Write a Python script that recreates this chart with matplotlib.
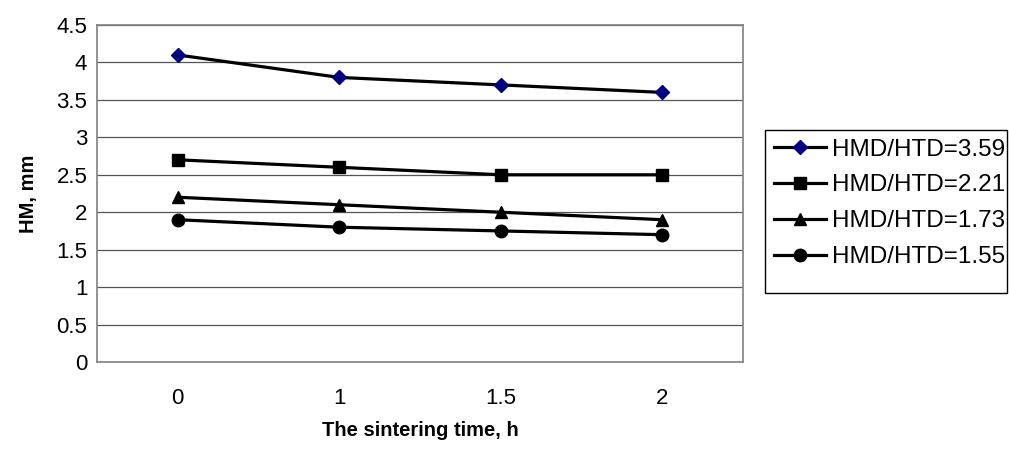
import numpy as np
import matplotlib.pyplot as plt
from matplotlib.patches import Rectangle

plt.rcParams['font.family'] = ['Liberation Sans', 'DejaVu Sans']

# 烧结时间（类别轴）
time_labels = ['0', '1', '1.5', '2']
hm_359 = [4.1, 3.8, 3.7, 3.6]
hm_221 = [2.7, 2.6, 2.5, 2.5]
hm_173 = [2.2, 2.1, 2.0, 1.9]
hm_155 = [1.9, 1.8, 1.75, 1.7]
series_labels = ['HMD/HTD=3.59', 'HMD/HTD=2.21', 'HMD/HTD=1.73', 'HMD/HTD=1.55']
y_ticks = np.arange(0, 4.51, 0.5)
y_tick_labels = ['0', '0.5', '1', '1.5', '2', '2.5', '3', '3.5', '4', '4.5']

W, H = 1009, 455
fig = plt.figure(figsize=(W / 100, H / 100), dpi=100)
ax = fig.add_axes([97 / W, 1 - 362 / H, 646 / W, 337 / H])

x = np.arange(len(time_labels))
styles = [
    dict(marker='D', markersize=7, markerfacecolor='#000080', markeredgecolor='#000080'),
    dict(marker='s', markersize=9, markerfacecolor='black', markeredgecolor='black'),
    dict(marker='^', markersize=9, markerfacecolor='black', markeredgecolor='black'),
    dict(marker='o', markersize=9, markerfacecolor='black', markeredgecolor='black'),
]
for vals, lab, st in zip([hm_359, hm_221, hm_173, hm_155], series_labels, styles):
    ax.plot(x, vals, color='black', linewidth=2.3, label=lab, **st)

ax.set_xlim(-0.5, len(time_labels) - 0.5)
ax.set_ylim(0, 4.5)
ax.set_xticks(x)
ax.set_xticklabels(time_labels)
ax.set_yticks(y_ticks)
ax.set_yticklabels(y_tick_labels)
ax.tick_params(length=0, labelsize=16, pad=7)
ax.tick_params(axis='x', pad=19)
ax.yaxis.grid(True, color='#555555', linewidth=0.9)
ax.set_axisbelow(True)
for s in ax.spines.values():
    s.set_color('#808080')
    s.set_linewidth(1.2)

ax.set_xlabel('The sintering time, h', fontsize=14.5, fontweight='bold', labelpad=8)
ax.set_ylabel('HM, mm', fontsize=14.5, fontweight='bold', labelpad=13)

# 图例：Excel 风格的外框，下边距比上边距大
leg = ax.legend(loc='upper left', bbox_to_anchor=(765 / W, 1 - 130 / H),
                bbox_transform=fig.transFigure, frameon=False,
                fontsize=17.5, handlelength=2.15, handletextpad=0.25,
                labelspacing=0.57, borderpad=0.35, borderaxespad=0)
fig.patches.append(Rectangle((765 / W, 1 - 293 / H), 242 / W, 163 / H,
                             transform=fig.transFigure, fill=False,
                             edgecolor='black', linewidth=1.0))

fig.savefig('out.png', dpi=100)
